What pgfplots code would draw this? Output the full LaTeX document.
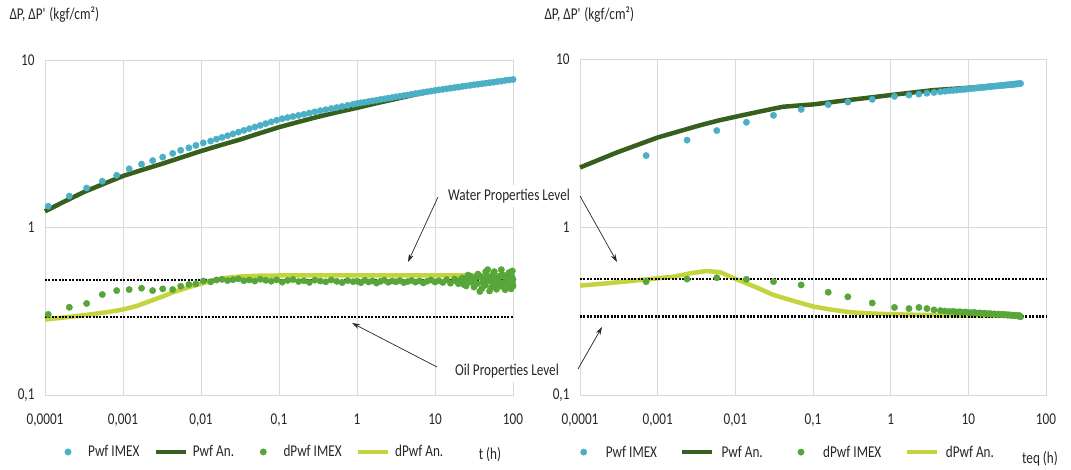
\documentclass[border=0pt]{standalone}
\usepackage{fontspec}
\setmainfont{Carlito}[FakeStretch=0.8]
\usepackage{pgfplots}
\usepackage{pgfplotstable}
\pgfplotsset{compat=1.18}
\usetikzlibrary{arrows.meta}

\definecolor{cimex}{HTML}{4BB0C6}
\definecolor{cpwfan}{HTML}{375F1E}
\definecolor{cdimex}{HTML}{58A53A}
\definecolor{cdan}{HTML}{C4D43E}
\definecolor{gridc}{HTML}{D9D9D9}
\newcommand{\fs}{\fontsize{16.5}{18}\selectfont}

% ---------- left panel data ----------
\pgfplotstableread{
t p dp
1.10e-4 1.34 0.303
2.05e-4 1.54 0.334
3.42e-4 1.72 0.352
5.43e-4 1.89 0.398
8.30e-4 2.05 0.420
1.20e-3 2.24 0.426
1.73e-3 2.39 0.434
2.40e-3 2.51 0.420
3.23e-3 2.63 0.430
4.34e-3 2.77 0.426
5.49e-3 2.89 0.446
7.00e-3 2.99 0.457
8.60e-3 3.09 0.461
0.0107 3.20 0.479
0.0133 3.28 0.474
0.0158 3.37 0.486
0.0186 3.45 0.490
0.0219 3.53 0.482
0.0257 3.62 0.488
0.0302 3.71 0.494
0.0355 3.80 0.481
0.0417 3.89 0.486
0.0490 3.98 0.479
0.0575 4.07 0.491
0.0676 4.17 0.484
0.0794 4.27 0.478
0.0933 4.37 0.487
0.110 4.46 0.472
0.129 4.53 0.483
0.151 4.60 0.489
0.178 4.67 0.476
0.209 4.74 0.481
0.245 4.82 0.470
0.288 4.90 0.485
0.339 4.98 0.479
0.398 5.05 0.474
0.468 5.13 0.486
0.550 5.20 0.477
0.646 5.28 0.469
0.759 5.36 0.482
0.891 5.44 0.475
1.00 5.50 0.478
1.12 5.55 0.468
1.26 5.60 0.484
1.41 5.65 0.473
1.58 5.70 0.480
1.78 5.75 0.466
2.00 5.81 0.477
2.24 5.86 0.485
2.51 5.92 0.471
2.82 5.97 0.479
3.16 6.03 0.474
3.55 6.08 0.482
3.98 6.13 0.469
4.47 6.18 0.476
5.01 6.24 0.483
5.62 6.30 0.472
6.31 6.35 0.480
7.08 6.41 0.467
7.94 6.46 0.478
8.91 6.52 0.486
10.0 6.58 0.473
11.2 6.63 0.481
12.6 6.68 0.470
14.1 6.73 0.488
15.8 6.79 0.465
17.8 6.84 0.492
20.0 6.89 0.462
22.4 6.95 0.499
25.1 7.00 0.448
28.2 7.06 0.512
31.6 7.11 0.441
35.5 7.16 0.527
39.8 7.21 0.432
44.7 7.27 0.545
50.1 7.32 0.418
56.2 7.37 0.531
63.1 7.43 0.452
70.8 7.48 0.560
79.4 7.55 0.425
89.1 7.60 0.538
100 7.65 0.447
}\Limex

\pgfplotstableread{
t dp
19.0 0.476
21.1 0.485
22.0 0.468
23.7 0.455
25.0 0.492
26.6 0.520
28.0 0.478
29.9 0.470
31.0 0.498
33.5 0.505
34.5 0.462
37.6 0.415
38.5 0.508
40.5 0.470
42.2 0.490
44.0 0.452
46.0 0.515
47.3 0.560
49.0 0.480
51.5 0.505
53.1 0.440
55.0 0.470
57.5 0.545
59.6 0.500
61.5 0.428
65.0 0.482
66.8 0.470
69.0 0.515
72.0 0.445
75.0 0.520
77.5 0.470
81.0 0.500
84.1 0.480
87.0 0.455
91.5 0.515
94.4 0.430
96.5 0.510
98.0 0.550
99.0 0.460
100 0.490
}\Limexb

\pgfplotstableread{
t p
1e-4 1.25
1.778e-4 1.43
3.162e-4 1.63
5.623e-4 1.82
1e-3 2.03
1.778e-3 2.21
3.162e-3 2.40
5.623e-3 2.62
0.01 2.86
0.01778 3.10
0.03162 3.35
0.05623 3.65
0.1 3.97
0.1778 4.27
0.3162 4.58
0.5623 4.88
1 5.18
1.778 5.52
3.162 5.86
5.623 6.22
10 6.58
17.78 6.87
31.62 7.14
56.23 7.40
100 7.65
}\Lpan

\pgfplotstableread{
t dp
1e-4 0.282
3.1e-4 0.299
6.5e-4 0.313
1.0e-3 0.324
1.5e-3 0.340
2.2e-3 0.363
3.2e-3 0.387
4.4e-3 0.411
7.0e-3 0.440
0.0102 0.463
0.015 0.487
0.0212 0.501
0.033 0.510
0.0514 0.515
0.1 0.517
1 0.518
10 0.518
100 0.518
}\Ldan

% ---------- right panel data ----------
\pgfplotstableread{
t p dp
7.1e-4 2.66 0.473
2.39e-3 3.29 0.490
5.77e-3 3.75 0.499
0.0139 4.20 0.488
0.031 4.62 0.473
0.0704 5.01 0.452
0.157 5.35 0.409
0.281 5.54 0.384
0.579 5.75 0.353
1.12 5.99 0.332
1.72 6.10 0.327
2.31 6.18 0.332
2.93 6.26 0.327
3.61 6.32 0.321
4.36 6.38 0.318
5.0 6.43 0.316
5.7 6.47 0.314
6.4 6.50 0.315
7.1 6.53 0.312
7.8 6.56 0.313
8.5 6.59 0.311
9.2 6.61 0.312
10 6.64 0.310
11 6.67 0.309
12 6.70 0.310
13 6.72 0.307
14 6.75 0.308
15 6.77 0.306
16 6.79 0.307
17 6.81 0.305
18 6.83 0.304
19 6.85 0.305
20 6.86 0.303
21.5 6.89 0.304
23 6.91 0.302
24.5 6.93 0.303
26 6.95 0.301
27.5 6.97 0.302
29 6.98 0.300
30.5 7.00 0.301
32 7.02 0.299
33.5 7.03 0.300
35 7.05 0.298
36.5 7.06 0.299
38 7.07 0.297
39.5 7.09 0.298
41 7.10 0.296
42.5 7.11 0.297
44 7.12 0.295
45.5 7.13 0.297
47 7.15 0.292
}\Rimex

\pgfplotstableread{
t p
1e-4 2.26
3.0e-4 2.78
1.0e-3 3.41
3.5e-3 4.03
6.0e-3 4.30
0.0107 4.56
0.0191 4.83
0.0309 5.06
0.0417 5.20
0.102 5.37
0.224 5.62
0.603 5.93
1.0 6.10
3.57 6.53
9.77 6.73
46.8 7.14
}\Rpan

\pgfplotstableread{
t dp
1e-4 0.448
2.21e-4 0.462
5.93e-4 0.483
1.596e-3 0.506
2.62e-3 0.530
4.29e-3 0.547
6.37e-3 0.538
9.75e-3 0.494
0.0189 0.436
0.0310 0.394
0.0561 0.363
0.1016 0.336
0.1667 0.323
0.301 0.311
0.603 0.305
0.977 0.303
1.62 0.301
4.36 0.298
9.80 0.297
46.8 0.295
}\Rdan

\pgfplotsset{
  every axis/.append style={
    xmode=log, ymode=log, scale only axis,
    xmin=1e-4, xmax=100, ymin=0.1, ymax=10,
    xtick={1e-4,1e-3,1e-2,1e-1,1,10,100},
    xticklabels={{0,0001},{0,001},{0,01},{0,1},1,10,100},
    ytick={0.1,1,10}, yticklabels={{0,1},1,10},
    xminorticks=false, yminorticks=false,
    grid=major, major grid style={draw=gridc, line width=0.9pt},
    axis line style={draw=gridc, line width=0.9pt},
    major tick length=0pt,
    tick label style={font=\fs, text=black!85},
    xticklabel style={yshift=-15pt},
    yticklabel style={xshift=-7pt},
    clip=false,
    legend columns=4,
  },
}

\begin{document}
\begin{tikzpicture}
\path[use as bounding box] (0pt,0pt) rectangle (1071pt,470pt);

\begin{axis}[at={(45pt,75pt)}, anchor=south west, width=468pt, height=335pt,
  legend style={draw=none, fill=none, font=\fs, text=black!85, at={(0.436,-0.170)}, anchor=center,
    /tikz/every odd column/.append style={column sep=3pt},
    /tikz/every even column/.append style={column sep=12pt}}]
  \addplot[color=cpwfan, line width=4.5pt, forget plot] table[x=t,y=p] {\Lpan};
  \addplot[color=cdan, line width=4.5pt, forget plot] table[x=t,y=dp] {\Ldan};
  \addplot[black, line width=2.2pt, dash pattern=on 2pt off 1.4pt, forget plot] coordinates {(1e-4,0.485) (100,0.485)};
  \addplot[black, line width=2.2pt, dash pattern=on 2pt off 1.4pt, forget plot] coordinates {(1e-4,0.293) (100,0.293)};
  \addplot[only marks, mark=*, mark size=3.2pt, color=cimex, forget plot] table[x=t,y=p] {\Limex};
  \addplot[only marks, mark=*, mark size=3.2pt, color=cdimex, forget plot] table[x=t,y=dp] {\Limex};
  \addplot[only marks, mark=*, mark size=3.2pt, color=cdimex, forget plot] table[x=t,y=dp] {\Limexb};
  \addlegendimage{legend image code/.code={\path (0pt,0pt) (30pt,0pt); \path[cimex] plot[mark=*, mark size=3.2pt, only marks] coordinates {(15pt,0pt)};}}
  \addlegendentry{Pwf IMEX}
  \addlegendimage{legend image code/.code={\draw[cpwfan, line width=4.5pt] (0pt,0pt) -- (30pt,0pt);}}
  \addlegendentry{Pwf An.}
  \addlegendimage{legend image code/.code={\path (0pt,0pt) (30pt,0pt); \path[cdimex] plot[mark=*, mark size=3.2pt, only marks] coordinates {(15pt,0pt)};}}
  \addlegendentry{dPwf IMEX}
  \addlegendimage{legend image code/.code={\draw[cdan, line width=4.5pt] (0pt,0pt) -- (30pt,0pt);}}
  \addlegendentry{dPwf An.}
\end{axis}

\begin{axis}[at={(580pt,75pt)}, anchor=south west, width=466pt, height=336pt,
  legend style={draw=none, fill=none, font=\fs, text=black!85, at={(0.434,-0.170)}, anchor=center,
    /tikz/every odd column/.append style={column sep=5pt},
    /tikz/every even column/.append style={column sep=21pt}}]
  \addplot[color=cpwfan, line width=4.5pt, forget plot] table[x=t,y=p] {\Rpan};
  \addplot[color=cdan, line width=4.5pt, forget plot] table[x=t,y=dp] {\Rdan};
  \addplot[black, line width=2.2pt, dash pattern=on 2pt off 1.4pt, forget plot] coordinates {(1e-4,0.488) (100,0.488)};
  \addplot[black, line width=2.2pt, dash pattern=on 2pt off 1.4pt, forget plot] coordinates {(1e-4,0.293) (100,0.293)};
  \addplot[only marks, mark=*, mark size=3.2pt, color=cimex, forget plot] table[x=t,y=p] {\Rimex};
  \addplot[only marks, mark=*, mark size=3.2pt, color=cdimex, forget plot] table[x=t,y=dp] {\Rimex};
  \addlegendimage{legend image code/.code={\path (0pt,0pt) (30pt,0pt); \path[cimex] plot[mark=*, mark size=3.2pt, only marks] coordinates {(15pt,0pt)};}}
  \addlegendentry{Pwf IMEX}
  \addlegendimage{legend image code/.code={\draw[cpwfan, line width=4.5pt] (0pt,0pt) -- (30pt,0pt);}}
  \addlegendentry{Pwf An.}
  \addlegendimage{legend image code/.code={\path (0pt,0pt) (30pt,0pt); \path[cdimex] plot[mark=*, mark size=3.2pt, only marks] coordinates {(15pt,0pt)};}}
  \addlegendentry{dPwf IMEX}
  \addlegendimage{legend image code/.code={\draw[cdan, line width=4.5pt] (0pt,0pt) -- (30pt,0pt);}}
  \addlegendentry{dPwf An.}
\end{axis}

% axis titles
\node[anchor=west, font=\fs, text=black!85] at (6pt,455pt) {ΔP, ΔP\textquotesingle{} (kgf/cm²)};
\node[anchor=west, font=\fs, text=black!85] at (541pt,455pt) {ΔP, ΔP\textquotesingle{} (kgf/cm²)};
\node[font=\fs, text=black!85] at (490pt,15pt) {t (h)};
\node[font=\fs, text=black!85] at (1040pt,11pt) {teq (h)};

% annotations
\node[fill=white, inner xsep=3pt, inner ysep=4pt, font=\fs, text=black!85] at (509pt,274pt) {Water Properties Level};
\node[fill=white, inner xsep=3pt, inner ysep=4pt, font=\fs, text=black!85] at (507pt,99pt) {Oil Properties Level};
\draw[-{Stealth[length=8pt,width=5pt]}, line width=0.7pt, black!85] (438pt,273pt) -- (408pt,208pt);
\draw[-{Stealth[length=8pt,width=5pt]}, line width=0.7pt, black!85] (580pt,274pt) -- (617pt,208pt);
\draw[-{Stealth[length=8pt,width=5pt]}, line width=0.7pt, black!85] (437pt,103pt) -- (352pt,147pt);
\draw[-{Stealth[length=8pt,width=5pt]}, line width=0.7pt, black!85] (578pt,101pt) -- (602pt,143pt);
\end{tikzpicture}
\end{document}
